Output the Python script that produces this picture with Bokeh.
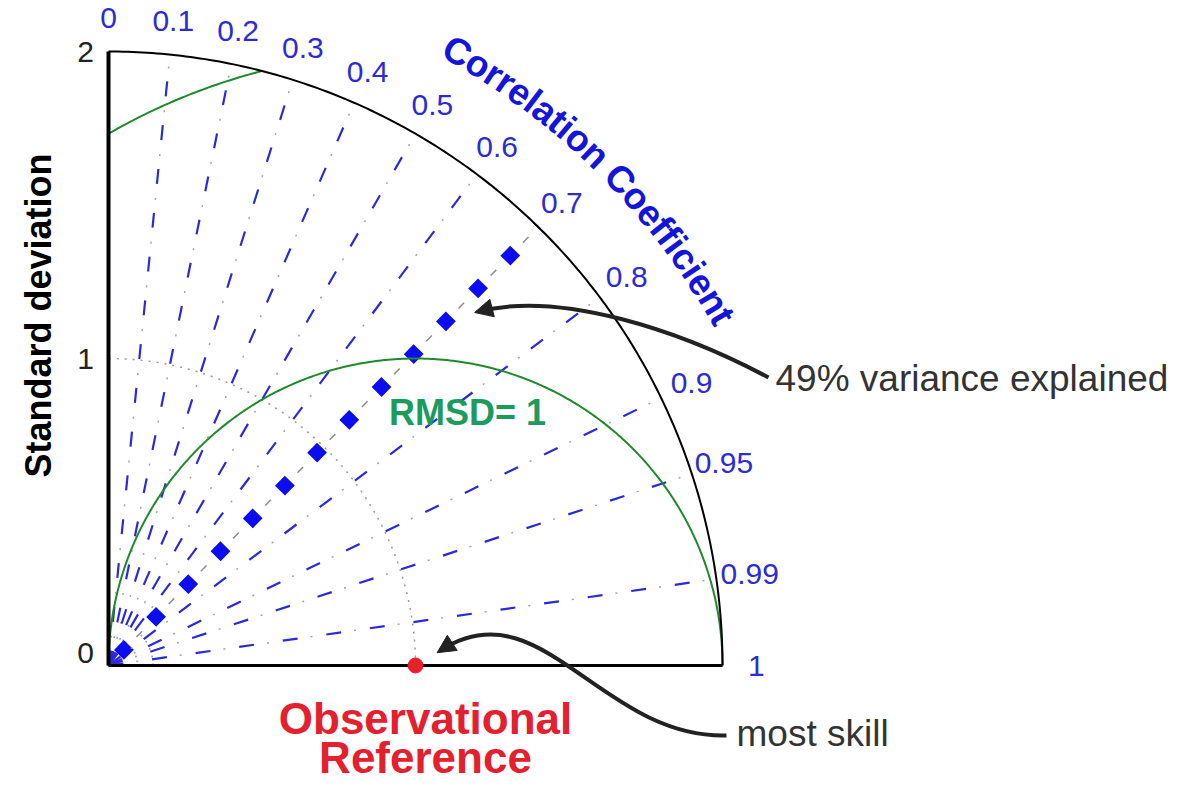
import numpy as np
from bokeh.plotting import figure
from bokeh.models import Arrow, NormalHead
from bokeh.core.properties import value
from bokeh.embed import file_html
from bokeh.resources import INLINE

# ---- diagram values -------------------------------------------------------
corr_lines = [0.1, 0.2, 0.3, 0.4, 0.5, 0.6, 0.7, 0.8, 0.9, 0.95, 0.99]
corr_label_values = [0.0, 0.1, 0.2, 0.3, 0.4, 0.5, 0.6, 0.7, 0.8, 0.9, 0.95, 0.99, 1.0]
corr_labels = ["0", "0.1", "0.2", "0.3", "0.4", "0.5", "0.6", "0.7", "0.8",
               "0.9", "0.95", "0.99", "1"]
std_ticks = [0, 1, 2]
std_tick_labels = ["0", "1", "2"]
std_max = 2.0
obs_std = 1.0
rmsd_levels = [1.0, 2.0]
highlight_corr = 0.7          # r = 0.7  ->  49% variance explained
dotted_std_arcs = [0.145, 1.0]

# ---- canvas: 307 px per unit of standard deviation, origin at (108, 665) ---
W, H = 1185, 785
S = 307.0
OX, OY = 108.0, 665.0


def px(x, y):
    """Screen pixel -> data coordinates."""
    return (x - OX) / S, (OY - y) / S


p = figure(width=W, height=H,
           x_range=(-OX / S, (W - OX) / S), y_range=(-(H - OY) / S, OY / S),
           output_backend="svg", toolbar_location=None, min_border=0,
           x_axis_type=None, y_axis_type=None)
p.grid.visible = False
p.outline_line_color = None
p.background_fill_color = "white"
p.border_fill_color = "white"

FONT = value("Liberation Sans")
BLUE_LINE = "#2a2ad6"
BLUE_TEXT = "#2c2cd2"

# ---- dotted standard-deviation arcs ---------------------------------------
t = np.linspace(0, np.pi / 2, 200)
for r in dotted_std_arcs:
    p.line(r * np.cos(t), r * np.sin(t), line_color="#9a9a9a", line_width=1.5,
           line_dash="2 6")

# ---- correlation rays -----------------------------------------------------
for c in corr_lines:
    th = np.arccos(c)
    xs = [0, std_max * np.cos(th)]
    ys = [0, std_max * np.sin(th)]
    if c == highlight_corr:
        p.line(xs, ys, line_color="#8c8c8c", line_width=1.5, line_dash="8 38",
               line_dash_offset=6)
        p.line(xs, ys, line_color="#0c0cf0", line_width=14, line_dash="14 32",
               line_dash_offset=31)
    else:
        p.line(xs, ys, line_color="#a4a4a4", line_width=1.5, line_dash="2 42",
               line_dash_offset=16)
        p.line(xs, ys, line_color=BLUE_LINE, line_width=2.2, line_dash="15 29")

# ---- RMSD contours, centred on the observation ----------------------------
tt = np.linspace(0, np.pi, 600)
for rm in rmsd_levels:
    x = obs_std + rm * np.cos(tt)
    y = rm * np.sin(tt)
    keep = (x >= 0) & (x ** 2 + y ** 2 <= std_max ** 2 + 1e-9)
    p.line(x[keep], y[keep], line_color="#1f8a2c", line_width=2)

# ---- frame: outer arc and the two axes ------------------------------------
p.line(std_max * np.cos(t), std_max * np.sin(t), line_color="black", line_width=2)
p.line([0, 0], [0, std_max], line_color="black", line_width=4)
p.line([0, std_max], [0, 0], line_color="black", line_width=3)

# ---- observational reference point ----------------------------------------
p.scatter([obs_std], [0], size=15, fill_color="#e8202c", line_color="#e8202c")

# ---- standard deviation tick labels and title -----------------------------
p.text([-0.075] * len(std_ticks), std_ticks, text=std_tick_labels,
       y_offset=[-13, 0, 0], text_font=FONT, text_font_size="30px",
       text_color="#222222", text_align="center", text_baseline="middle")
sx, sy = px(38, 315)
p.text([sx], [sy], text=["Standard deviation"], angle=np.pi / 2,
       text_font=FONT, text_font_size="36px", text_font_style="bold",
       text_color="black", text_align="center", text_baseline="middle")

# ---- correlation tick labels ----------------------------------------------
lab_r = 2.11
th_l = np.arccos(np.array(corr_label_values))
p.text(lab_r * np.cos(th_l), lab_r * np.sin(th_l), text=corr_labels,
       text_font=FONT, text_font_size="30px", text_color=BLUE_TEXT,
       text_align="center", text_baseline="middle")

# ---- curved "Correlation Coefficient" title -------------------------------
title = "Correlation Coefficient"
bold_w = {"C": 722, "o": 611, "r": 389, "e": 556, "l": 278, "a": 556, "t": 333,
          "i": 278, "n": 611, " ": 278, "f": 333, "c": 556}
fs = 37.0
R_title = 2.30
R_px = R_title * S
widths = np.array([bold_w[ch] for ch in title]) / 1000.0 * fs
total = widths.sum()
th_c = np.deg2rad(45.3)
th0 = th_c + total / 2 / R_px
centers = np.cumsum(widths) - widths / 2
ths = th0 - centers / R_px
p.text(R_title * np.cos(ths), R_title * np.sin(ths), text=list(title),
       angle=ths - np.pi / 2, text_font=FONT, text_font_size="37px",
       text_font_style="bold", text_color="#1414dc", text_align="center",
       text_baseline="middle")

# ---- labels ---------------------------------------------------------------
rx, ry = px(467, 412)
p.text([rx], [ry], text=["RMSD= 1"], text_font=FONT, text_font_size="36px",
       text_font_style="bold", text_color="#1d9a5e", text_align="center",
       text_baseline="middle")

ox, oy1 = px(425, 718)
_, oy2 = px(425, 757)
p.text([ox, ox], [oy1, oy2], text=["Observational", "Reference"],
       text_font=FONT, text_font_size="44px", text_font_style="bold",
       text_color="#e4202e", text_align="center", text_baseline="middle")

vx, vy = px(775, 378)
p.text([vx], [vy], text=["49% variance explained"], text_font=FONT,
       text_font_size="37px", text_color="#333333", text_align="left",
       text_baseline="middle")
mx, my = px(736, 733)
p.text([mx], [my], text=["most skill"], text_font=FONT, text_font_size="37px",
       text_color="#333333", text_align="left", text_baseline="middle")

# ---- curved pointer arrows ------------------------------------------------
def pointer(p0, c0, c1, p1):
    x0, y0 = px(*p0)
    cx0, cy0 = px(*c0)
    cx1, cy1 = px(*c1)
    x1, y1 = px(*p1)
    p.bezier(x0=[x0], y0=[y0], x1=[x1], y1=[y1], cx0=[cx0], cy0=[cy0],
             cx1=[cx1], cy1=[cy1], line_color="#222222", line_width=4)
    d = np.array([x1 - cx1, y1 - cy1])
    d = d / np.hypot(*d)
    back = 14 / S
    p.add_layout(Arrow(end=NormalHead(size=18, fill_color="#222222",
                                      line_color="#222222"),
                       x_start=x1 - d[0] * back, y_start=y1 - d[1] * back,
                       x_end=x1 + d[0] * 4 / S, y_end=y1 + d[1] * 4 / S,
                       line_color="#222222", line_width=3))


pointer((768, 377), (680, 330), (560, 290), (478, 311))
pointer((726, 735), (600, 738), (540, 585), (440, 650))

open("out.html", "w").write(file_html(p, INLINE))
